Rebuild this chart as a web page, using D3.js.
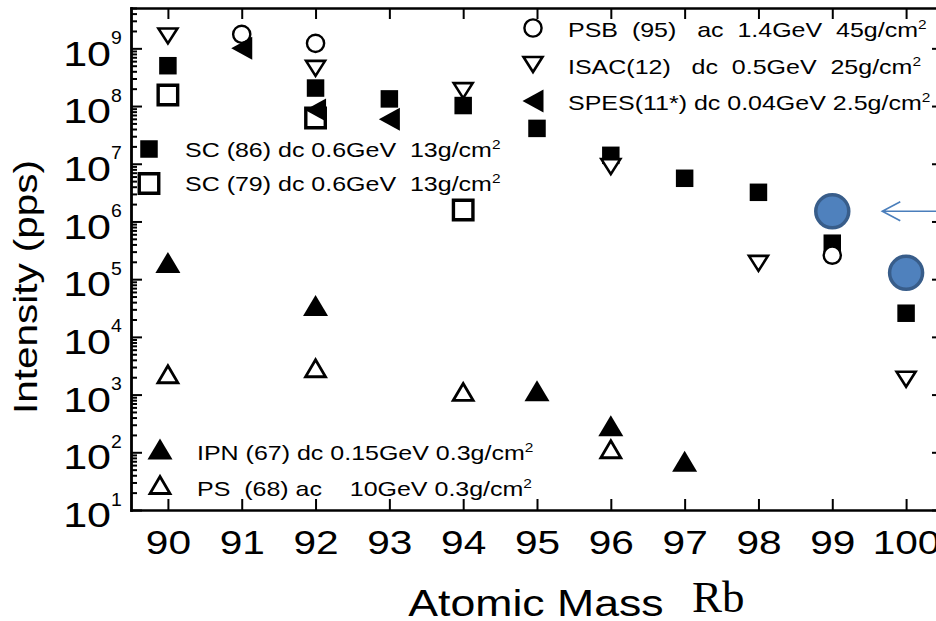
<!DOCTYPE html>
<html>
<head>
<meta charset="utf-8">
<script src="https://cdn.jsdelivr.net/npm/d3@7"></script>
<style>
html, body { margin: 0; padding: 0; background: #fff; }
text { font-family: "Liberation Sans", Arial, Helvetica, sans-serif; white-space: pre; }
text.serif { font-family: "Liberation Serif", "Times New Roman", Times, serif; }
</style>
</head>
<body>
<svg id="chart" width="936" height="621"></svg>
<script>
// Rb isotopes on the x axis
const masses = [90, 91, 92, 93, 94, 95, 96, 97, 98, 99, 100];
const yExponents = [1, 2, 3, 4, 5, 6, 7, 8, 9];

// intensities in pps, read per facility
const psbMass = [91, 92, 99];
const psbVals = [1.75e9, 1.22e9, 2.6e5];
const isacMass = [90, 92, 94, 96, 98, 100];
const isacVals = [1.64e9, 4.5e8, 1.85e8, 8.9e6, 1.88e5, 1.84e3];
const spesMass = [91, 92, 93];
const spesVals = [1.0e9, 8.5e7, 5.9e7];
const sc86Mass = [90, 92, 93, 94, 95, 96, 97, 98, 99, 100];
const sc86Vals = [5.0e8, 2.05e8, 1.33e8, 1.02e8, 4.1e7, 1.4e7, 5.6e6, 3.2e6, 4.2e5, 2.57e4];
const sc79Mass = [90, 92, 94];
const sc79Vals = [1.55e8, 6.2e7, 1.58e6];
const ipnMass = [90, 92, 95, 96, 97];
const ipnVals = [1.95e5, 3.5e4, 1.16e3, 288, 70];
const psMass = [90, 92, 94, 96];
const psVals = [2.25e3, 2.86e3, 1.11e3, 113];
const newMass = [99, 100];
const newVals = [1.5e6, 1.29e5];

// legend rows (each ends with g/cm, the squared sign is added)
const legendTop = [
    "PSB  (95)   ac  1.4GeV  45g/cm",
    "ISAC(12)   dc  0.5GeV  25g/cm",
    "SPES(11*) dc 0.04GeV 2.5g/cm"
];
const legendSc = [
    "SC (86) dc 0.6GeV  13g/cm",
    "SC (79) dc 0.6GeV  13g/cm"
];
const legendLow = [
    "IPN (67) dc 0.15GeV 0.3g/cm",
    "PS  (68) ac    10GeV 0.3g/cm"
];

const svg = d3.select("#chart");
const SX = 1.19;   // the figure is a bit wide: text is stretched

const x = d3.scaleLinear().domain([89.5, 100.5]).range([131, 943]);
const y = d3.scaleLog().domain([10, 5e9]).range([510, 8]);

const yMajor = yExponents.map(e => Math.pow(10, e));
const yMinor = [];
for (let e = 1; e <= 9; e++)
    for (let k = 2; k <= 9; k++)
        if (k * Math.pow(10, e) <= 5e9) yMinor.push(k * Math.pow(10, e));

// --- shapes
const shapes = {
    square: s => `M${-s / 2},${-s / 2}h${s}v${s}h${-s}Z`,
    circle: r => `M${r},0A${r},${r} 0 1,1 ${-r},0A${r},${r} 0 1,1 ${r},0Z`,
    up: (w, h) => `M0,${-h / 2}L${w / 2},${h / 2}L${-w / 2},${h / 2}Z`,
    down: (w, h) => `M${-w / 2},${-h / 2}L${w / 2},${-h / 2}L0,${h / 2}Z`,
    left: (w, h) => `M${-w / 2},0L${w / 2},${-h / 2}L${w / 2},${h / 2}Z`
};

const styles = {
    psb:  { d: shapes.circle(8.6), fill: "#fff", stroke: "#000", sw: 2.4 },
    isac: { d: shapes.down(19, 15), fill: "#fff", stroke: "#000", sw: 2.6 },
    spes: { d: shapes.left(21, 23), fill: "#000", stroke: "none", sw: 0 },
    sc86: { d: shapes.square(17.5), fill: "#000", stroke: "none", sw: 0 },
    sc79: { d: shapes.square(19.5), fill: "none", stroke: "#000", sw: 3.4 },
    ipn:  { d: shapes.up(25, 21), fill: "#000", stroke: "none", sw: 0 },
    ps:   { d: shapes.up(20, 17), fill: "#fff", stroke: "#000", sw: 2.8 }
};

function marker(g, st, px, py) {
    g.append("path")
        .attr("d", st.d)
        .attr("transform", `translate(${px},${py})`)
        .attr("fill", st.fill)
        .attr("stroke", st.stroke)
        .attr("stroke-width", st.sw)
        .attr("stroke-linejoin", "miter");
}

function series(mass, vals, st) {
    const g = svg.append("g");
    mass.forEach((m, i) => marker(g, st, x(m), y(vals[i])));
}

// stretched text helper
function label(g, txt, px, py, size, sx, anchor) {
    return g.append("text")
        .attr("transform", `translate(${px},${py}) scale(${sx},1)`)
        .attr("text-anchor", anchor || "start")
        .attr("font-size", size)
        .attr("fill", "#000")
        .text(txt);
}

// --- axes
function styleAxis(g) {
    g.select(".domain").attr("stroke", "#000").attr("stroke-width", 2.4).attr("stroke-linecap", "square");
    g.selectAll(".tick line").attr("stroke", "#000").attr("stroke-width", 2);
}

const gBottom = svg.append("g")
    .attr("transform", `translate(0,${y(10)})`)
    .call(d3.axisBottom(x).tickValues(masses).tickSize(-11).tickSizeOuter(0).tickFormat(""));
styleAxis(gBottom);
gBottom.selectAll(".tick").each(function (d) {
    label(d3.select(this), String(d), 0, 43.5, 33, 1.23, "middle");
});

const gTop = svg.append("g")
    .attr("transform", `translate(0,${y(5e9)})`)
    .call(d3.axisTop(x).tickValues(masses).tickSize(-11).tickSizeOuter(0).tickFormat(""));
styleAxis(gTop);

const gLeft = svg.append("g")
    .attr("transform", `translate(${x(89.5)},0)`)
    .call(d3.axisLeft(y).tickValues(yMajor).tickSize(-11).tickSizeOuter(0).tickFormat(""));
styleAxis(gLeft);
gLeft.selectAll(".tick").each(function (d, i) {
    const t = d3.select(this);
    label(t, "10", -20, 16.7, 35, 1.23, "end");
    label(t, String(yExponents[i]), -20, -5, 18.5, 1.05, "start");
});
const gLeftMinor = svg.append("g")
    .attr("transform", `translate(${x(89.5)},0)`)
    .call(d3.axisLeft(y).tickValues(yMinor).tickSize(-6).tickSizeOuter(0).tickFormat(""));
styleAxis(gLeftMinor);

const gRight = svg.append("g")
    .attr("transform", `translate(${x(100.5)},0)`)
    .call(d3.axisRight(y).tickValues(yMajor).tickSize(-11).tickSizeOuter(0).tickFormat(""));
styleAxis(gRight);
const gRightMinor = svg.append("g")
    .attr("transform", `translate(${x(100.5)},0)`)
    .call(d3.axisRight(y).tickValues(yMinor).tickSize(-6).tickSizeOuter(0).tickFormat(""));
styleAxis(gRightMinor);

// axis titles
svg.append("text")
    .attr("transform", `translate(37,287) rotate(-90) scale(${SX},1)`)
    .attr("text-anchor", "middle")
    .attr("font-size", 34)
    .text("Intensity (pps)");
label(svg, "Atomic Mass", 536, 616, 37.5, SX, "middle");
svg.append("text")
    .attr("class", "serif")
    .attr("x", 692).attr("y", 612)
    .attr("font-size", 45)
    .text("Rb");

// --- data
series(sc86Mass, sc86Vals, styles.sc86);
series(isacMass, isacVals, styles.isac);
series(psbMass, psbVals, styles.psb);
series(spesMass, spesVals, styles.spes);
series(sc79Mass, sc79Vals, styles.sc79);
series(ipnMass, ipnVals, styles.ipn);
series(psMass, psVals, styles.ps);

// new points (blue) with the arrow
const gNew = svg.append("g");
newMass.forEach((m, i) => {
    gNew.append("circle")
        .attr("cx", x(m)).attr("cy", y(newVals[i])).attr("r", 16.5)
        .attr("fill", "#4f81bd").attr("stroke", "#385d8a").attr("stroke-width", 3.5);
});
const ax = x(newMass[0]) + 50, ay = y(newVals[0]);
gNew.append("path")
    .attr("d", `M${ax + 70},${ay}H${ax}M${ax + 18},${ay - 9.5}L${ax},${ay}L${ax + 18},${ay + 9.5}`)
    .attr("fill", "none").attr("stroke", "#4a7ebb").attr("stroke-width", 1.6);

// --- legends
function legend(rows, keys, mx, my, step, tx, dy) {
    const g = svg.append("g");
    rows.forEach((r, i) => {
        const yy = my + i * step;
        marker(g, styles[keys[i]], mx, yy);
        const t = label(g, r, tx, yy + dy, 21, SX);
        t.append("tspan").attr("font-size", 13).attr("dy", -8).text("2");
    });
}

legend(legendTop, ["psb", "isac", "spes"], 533, 28, 36.5, 568, 9);
legend(legendSc, ["sc86", "sc79"], 149, 149, 34.5, 185, 7.5);
legend(legendLow, ["ipn", "ps"], 160, 449, 36, 197, 11);
</script>
</body>
</html>
